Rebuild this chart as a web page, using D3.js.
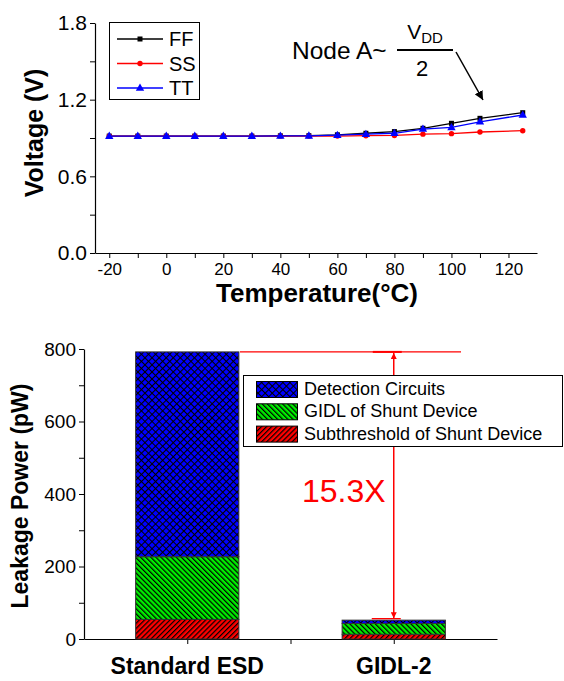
<!DOCTYPE html>
<html>
<head>
<meta charset="utf-8">
<script src="https://cdn.jsdelivr.net/npm/d3@7"></script>
<style>
  body { margin: 0; background: #fff; }
  text { font-family: "Liberation Sans", Arial, sans-serif; }
</style>
</head>
<body>
<script>
// top chart data
var temps = [-20, -10, 0, 10, 20, 30, 40, 50, 60, 70, 80, 90, 100, 110, 125];
var ffV = [0.915, 0.915, 0.915, 0.915, 0.915, 0.915, 0.917, 0.918, 0.925, 0.937, 0.95, 0.976, 1.015, 1.054, 1.098];
var ssV = [0.915, 0.915, 0.915, 0.915, 0.915, 0.915, 0.915, 0.915, 0.915, 0.918, 0.92, 0.93, 0.934, 0.947, 0.957];
var ttV = [0.915, 0.915, 0.915, 0.915, 0.915, 0.915, 0.916, 0.917, 0.922, 0.93, 0.937, 0.97, 0.983, 1.027, 1.08];
var tempTicks = [-20, 0, 20, 40, 60, 80, 100, 120];
var voltTicks = [0.0, 0.6, 1.2, 1.8];

// bottom chart data
var categories = ["Standard ESD", "GIDL-2"];
var subthreshold = [54, 13];
var gidlShunt = [173, 30];
var detection = [565, 9];
var powerTicks = [0, 200, 400, 600, 800];

var W = 564, H = 681;
var svg = d3.select("body").append("svg")
  .attr("width", W)
  .attr("height", H);

var defs = svg.append("defs");

// hatch patterns
var pBlue = defs.append("pattern").attr("id", "pBlue")
  .attr("patternUnits", "userSpaceOnUse").attr("width", 5).attr("height", 5)
  .attr("patternTransform", "rotate(45)");
pBlue.append("rect").attr("width", 5).attr("height", 5).attr("fill", "#0000ff");
pBlue.append("path").attr("d", "M0,0.5 L5,0.5 M0.5,0 L0.5,5")
  .attr("stroke", "#000").attr("stroke-width", 1.1);

var pGreen = defs.append("pattern").attr("id", "pGreen")
  .attr("patternUnits", "userSpaceOnUse").attr("width", 3.6).attr("height", 3.6)
  .attr("patternTransform", "rotate(-45)");
pGreen.append("rect").attr("width", 3.6).attr("height", 3.6).attr("fill", "#00ee00");
pGreen.append("path").attr("d", "M0.6,0 L0.6,3.6")
  .attr("stroke", "#000").attr("stroke-width", 1.2);

var pRed = defs.append("pattern").attr("id", "pRed")
  .attr("patternUnits", "userSpaceOnUse").attr("width", 3.6).attr("height", 3.6)
  .attr("patternTransform", "rotate(45)");
pRed.append("rect").attr("width", 3.6).attr("height", 3.6).attr("fill", "#ff0000");
pRed.append("path").attr("d", "M0.6,0 L0.6,3.6")
  .attr("stroke", "#000").attr("stroke-width", 1.2);

defs.append("marker").attr("id", "arrBlack")
  .attr("viewBox", "0 0 10 10").attr("refX", 10).attr("refY", 5)
  .attr("markerWidth", 9).attr("markerHeight", 9).attr("markerUnits", "userSpaceOnUse")
  .attr("orient", "auto")
  .append("path").attr("d", "M0,0 L10,5 L0,10 z").attr("fill", "#000");

defs.append("marker").attr("id", "arrRed")
  .attr("viewBox", "0 0 10 10").attr("refX", 10).attr("refY", 5)
  .attr("markerWidth", 8).attr("markerHeight", 6).attr("markerUnits", "userSpaceOnUse")
  .attr("orient", "auto-start-reverse")
  .append("path").attr("d", "M0,0 L10,5 L0,10 z").attr("fill", "#ff0000");

// ================= top chart =================
var xTop = d3.scaleLinear().domain([-25, 130]).range([95, 537]);
var yTop = d3.scaleLinear().domain([0, 1.8]).range([253, 23]);

var gxTop = svg.append("g")
  .attr("transform", "translate(0," + yTop(0) + ")")
  .call(d3.axisBottom(xTop).tickValues(d3.range(-20, 130, 10)).tickSize(5).tickSizeOuter(0)
    .tickFormat(function (d) { return tempTicks.indexOf(d) >= 0 ? d : ""; }));
gxTop.selectAll("text").attr("font-size", 17).attr("fill", "#000").attr("dy", "0.85em");

var gyTop = svg.append("g")
  .attr("transform", "translate(" + xTop(-25) + ",0)")
  .call(d3.axisLeft(yTop).tickValues([0, 0.3, 0.6, 0.9, 1.2, 1.5, 1.8]).tickSize(5).tickSizeOuter(0)
    .tickFormat(function (d) {
      var hit = voltTicks.filter(function (v) { return Math.abs(v - d) < 1e-6; });
      return hit.length ? d3.format(".1f")(d) : "";
    }));
gyTop.selectAll("text").attr("font-size", 21).attr("fill", "#000").attr("x", -8);

svg.selectAll(".domain").attr("stroke", "#000").attr("stroke-width", 1.2);
svg.selectAll(".tick line").attr("stroke", "#000");

svg.append("text")
  .attr("transform", "translate(43," + 133 + ") rotate(-90)")
  .attr("text-anchor", "middle")
  .attr("font-size", 25).attr("font-weight", "bold")
  .text("Voltage (V)");

svg.append("text")
  .attr("x", 317).attr("y", 302)
  .attr("text-anchor", "middle")
  .attr("font-size", 26).attr("font-weight", "bold")
  .text("Temperature(\u00B0C)");

var series = [
  { name: "FF", vals: ffV, color: "#000000", shape: "square" },
  { name: "SS", vals: ssV, color: "#ff0000", shape: "circle" },
  { name: "TT", vals: ttV, color: "#0000ff", shape: "triangle" }
];

var line = d3.line()
  .x(function (d) { return xTop(d[0]); })
  .y(function (d) { return yTop(d[1]); });

function drawMarker(g, shape, color, x, y) {
  if (shape === "square") {
    g.append("rect").attr("x", x - 2.5).attr("y", y - 2.5).attr("width", 5).attr("height", 5).attr("fill", color);
  } else if (shape === "circle") {
    g.append("circle").attr("cx", x).attr("cy", y).attr("r", 2.7).attr("fill", color);
  } else {
    g.append("path").attr("d", "M" + x + "," + (y - 4.5) + " L" + (x + 4.2) + "," + (y + 2.8) + " L" + (x - 4.2) + "," + (y + 2.8) + " z")
      .attr("fill", color);
  }
}

series.forEach(function (s) {
  var pts = temps.map(function (t, i) { return [t, s.vals[i]]; });
  var g = svg.append("g");
  g.append("path").datum(pts).attr("d", line)
    .attr("fill", "none").attr("stroke", s.color).attr("stroke-width", 1.3);
  pts.forEach(function (p) { drawMarker(g, s.shape, s.color, xTop(p[0]), yTop(p[1])); });
});

// top legend
var lg = svg.append("g");
lg.append("rect").attr("x", 109.5).attr("y", 22.5).attr("width", 90).attr("height", 77)
  .attr("fill", "#fff").attr("stroke", "#000").attr("stroke-width", 1);
series.forEach(function (s, i) {
  var cy = 39 + i * 24.5;
  lg.append("line").attr("x1", 117).attr("x2", 163).attr("y1", cy).attr("y2", cy)
    .attr("stroke", s.color).attr("stroke-width", 1.3);
  drawMarker(lg, s.shape, s.color, 140, cy);
  lg.append("text").attr("x", 169).attr("y", cy + 7).attr("font-size", 20).text(s.name);
});

// node A annotation
var ann = svg.append("g");
ann.append("text").attr("x", 292).attr("y", 59).attr("font-size", 24.5).text("Node A~");
ann.append("line").attr("x1", 397).attr("x2", 453).attr("y1", 50).attr("y2", 50)
  .attr("stroke", "#000").attr("stroke-width", 2.2);
var vdd = ann.append("text").attr("x", 425).attr("y", 39).attr("text-anchor", "middle").attr("font-size", 21);
vdd.append("tspan").text("V");
vdd.append("tspan").attr("font-size", 15).attr("dy", 4).text("DD");
ann.append("text").attr("x", 422).attr("y", 76).attr("text-anchor", "middle").attr("font-size", 22).text("2");
ann.append("line").attr("x1", 456).attr("y1", 52).attr("x2", 483).attr("y2", 100)
  .attr("stroke", "#000").attr("stroke-width", 1.5).attr("marker-end", "url(#arrBlack)");

// ================= bottom chart =================
var xBot = d3.scaleLinear().domain([0.5, 2.5]).range([84, 497]);
var yBot = d3.scaleLinear().domain([0, 800]).range([639, 349]);
var barW = 0.5;

var gxBot = svg.append("g")
  .attr("transform", "translate(0," + yBot(0) + ")")
  .call(d3.axisBottom(xBot).tickValues([1, 1.5, 2]).tickSize(5).tickSizeOuter(0).tickFormat(""));

var gyBot = svg.append("g")
  .attr("transform", "translate(" + xBot(0.5) + ",0)")
  .call(d3.axisLeft(yBot).tickValues(d3.range(0, 801, 100)).tickSize(5).tickSizeOuter(0)
    .tickFormat(function (d) { return powerTicks.indexOf(d) >= 0 ? d : ""; }));
gyBot.selectAll("text").attr("font-size", 19).attr("fill", "#000").attr("x", -8);

svg.selectAll(".domain").attr("stroke", "#000").attr("stroke-width", 1.2);
svg.selectAll(".tick line").attr("stroke", "#000");

categories.forEach(function (c, i) {
  svg.append("text")
    .attr("x", xBot(i + 1)).attr("y", 674)
    .attr("text-anchor", "middle")
    .attr("font-size", 23).attr("font-weight", "bold")
    .text(c);
});

svg.append("text")
  .attr("transform", "translate(28," + 496 + ") rotate(-90)")
  .attr("text-anchor", "middle")
  .attr("font-size", 23).attr("font-weight", "bold")
  .text("Leakage Power (pW)");

var layers = [
  { name: "Subthreshold of Shunt Device", vals: subthreshold, fill: "url(#pRed)" },
  { name: "GIDL of Shunt Device", vals: gidlShunt, fill: "url(#pGreen)" },
  { name: "Detection Circuits", vals: detection, fill: "url(#pBlue)" }
];

var stackData = categories.map(function (c, i) {
  return { subthreshold: subthreshold[i], gidl: gidlShunt[i], detection: detection[i] };
});
var stacked = d3.stack().keys(["subthreshold", "gidl", "detection"])(stackData);

stacked.forEach(function (layer, li) {
  svg.append("g").selectAll("rect")
    .data(layer)
    .enter()
    .append("rect")
    .attr("x", function (d, i) { return xBot(i + 1 - barW / 2); })
    .attr("width", xBot(barW) - xBot(0))
    .attr("y", function (d) { return yBot(d[1]); })
    .attr("height", function (d) { return yBot(d[0]) - yBot(d[1]); })
    .attr("fill", layers[li].fill)
    .attr("stroke", "#333")
    .attr("stroke-width", 1);
});

// ratio annotation
var topVal = stacked[2][0][1];
var lowVal = stacked[2][1][1];
var arrX = xBot(2);
svg.append("line").attr("x1", 240).attr("x2", 461)
  .attr("y1", yBot(topVal)).attr("y2", yBot(topVal))
  .attr("stroke", "#ff0000").attr("stroke-width", 1.3);
svg.append("line").attr("x1", arrX - 21).attr("x2", arrX + 8)
  .attr("y1", yBot(topVal)).attr("y2", yBot(topVal))
  .attr("stroke", "#ff0000").attr("stroke-width", 2);
svg.append("line").attr("x1", arrX - 22).attr("x2", arrX + 7)
  .attr("y1", yBot(lowVal) - 1.5).attr("y2", yBot(lowVal) - 1.5)
  .attr("stroke", "#ff0000").attr("stroke-width", 1.3);
svg.append("line").attr("x1", arrX).attr("x2", arrX)
  .attr("y1", yBot(topVal) + 1).attr("y2", yBot(lowVal) - 2)
  .attr("stroke", "#ff0000").attr("stroke-width", 1.5)
  .attr("marker-start", "url(#arrRed)").attr("marker-end", "url(#arrRed)");
svg.append("text").attr("x", 302).attr("y", 502)
  .attr("font-size", 32).attr("fill", "#ff0000")
  .text("15.3X");

// bottom legend
var lb = svg.append("g");
lb.append("rect").attr("x", 243.5).attr("y", 375.5).attr("width", 319).attr("height", 71)
  .attr("fill", "#fff").attr("stroke", "#000").attr("stroke-width", 1);
layers.slice().reverse().forEach(function (l, i) {
  var y0 = 381 + i * 22.3;
  lb.append("rect").attr("x", 256.5).attr("y", y0 + 0.5).attr("width", 41).attr("height", 16)
    .attr("fill", l.fill).attr("stroke", "#000").attr("stroke-width", 1);
  lb.append("text").attr("x", 304).attr("y", y0 + 14).attr("font-size", 18).text(l.name);
});
</script>
</body>
</html>
